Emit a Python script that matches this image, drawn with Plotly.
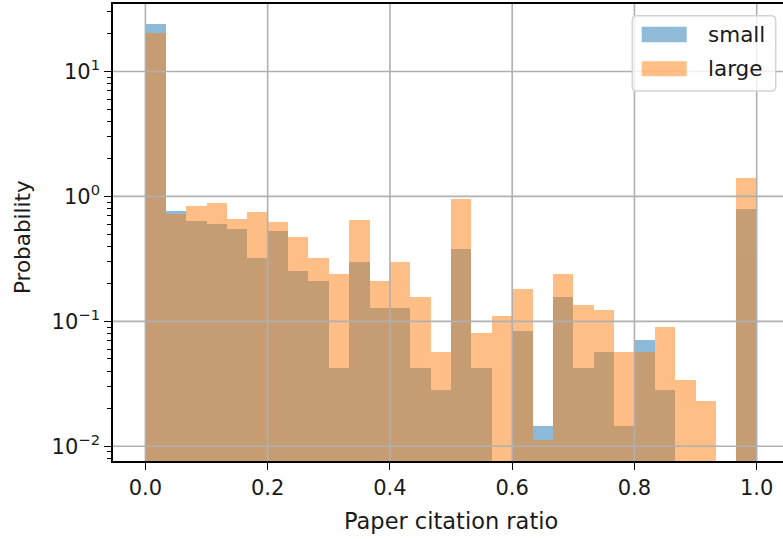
import plotly.graph_objects as go
import math

# ---- data ----
bin_edges_n = 30
bin_lo = 0.0
bin_hi = 1.0
small = [24.1, 0.768, 0.63, 0.60, 0.55, 0.324, 0.531, 0.255, 0.212, 0.0422,
         0.298, 0.128, 0.128, 0.0422, 0.0284, 0.381, 0.0422, 0, 0.0843, 0.0144,
         0.156, 0.0422, 0.0573, 0.0144, 0.0707, 0.0284, 0, 0, 0, 0.787]
large = [20.2, 0.726, 0.838, 0.89, 0.66, 0.745, 0.619, 0.469, 0.324, 0.239,
         0.642, 0.212, 0.298, 0.156, 0.0573, 0.953, 0.0804, 0.111, 0.182, 0.0113,
         0.240, 0.134, 0.123, 0.0573, 0.0573, 0.0903, 0.0342, 0.0229, 0, 1.40]
series_names = ["small", "large"]
x_ticks = [0.0, 0.2, 0.4, 0.6, 0.8, 1.0]
x_ticktext = ["0.0", "0.2", "0.4", "0.6", "0.8", "1.0"]
y_ticks = [0.01, 0.1, 1, 10]
y_ticktext = ["10<sup>\u22122</sup>", "10<sup>\u22121</sup>", "10<sup>0</sup>", "10<sup>1</sup>"]

width = (bin_hi - bin_lo) / bin_edges_n
centers = [bin_lo + (i + 0.5) * width for i in range(bin_edges_n)]

# ---- layout geometry ----
W, H = 783, 539
ML, MR, MT, MB = 113, 0, 4, 78
PW, PH = W - ML - MR, H - MT - MB
XR = [-0.053, 1.043]
YR = [-2.118, 1.540]

def px(x):
    return (x - ML) / PW

def py(y):
    return (H - MB - y) / PH

C0 = "#1f77b4"
C1 = "#ff7f0e"
FONT = "DejaVu Sans"
TXT = "#1a1a1a"

fig = go.Figure()
for name, vals, col in [(series_names[0], small, C0), (series_names[1], large, C1)]:
    fig.add_trace(go.Bar(
        x=centers, y=[v if v > 0 else None for v in vals], width=width,
        name=name, marker=dict(color=col, line=dict(width=0)), opacity=0.5,
        showlegend=False,
    ))

shapes = []
# grid lines above bars (matplotlib draws grid over patches)
for xv in x_ticks:
    shapes.append(dict(type="line", xref="x", yref="paper", x0=xv, x1=xv, y0=0, y1=1,
                       line=dict(color="#b0b0b0", width=1.6), layer="above"))
for yv in y_ticks:
    f = (math.log10(yv) - YR[0]) / (YR[1] - YR[0])
    shapes.append(dict(type="line", xref="paper", yref="paper", x0=0, x1=1, y0=f, y1=f,
                       line=dict(color="#b0b0b0", width=1.6), layer="above"))

# legend box (rounded)
x0, x1, y0, y1, r = 632.3, 775.7, 15.7, 91.0, 4.5
pts = (f"M {px(x0+r)},{py(y0)} L {px(x1-r)},{py(y0)} Q {px(x1)},{py(y0)} {px(x1)},{py(y0+r)} "
       f"L {px(x1)},{py(y1-r)} Q {px(x1)},{py(y1)} {px(x1-r)},{py(y1)} "
       f"L {px(x0+r)},{py(y1)} Q {px(x0)},{py(y1)} {px(x0)},{py(y1-r)} "
       f"L {px(x0)},{py(y0+r)} Q {px(x0)},{py(y0)} {px(x0+r)},{py(y0)} Z")
shapes.append(dict(type="path", xref="paper", yref="paper", path=pts,
                   fillcolor="rgba(255,255,255,0.8)", line=dict(color="#d4d4d4", width=1.5),
                   layer="above"))
legend_rows = [(series_names[0], C0, 26.8, 42.2, 35.0), (series_names[1], C1, 61.3, 76.3, 69.0)]
annotations = []
for name, col, ya, yb, yc in legend_rows:
    shapes.append(dict(type="rect", xref="paper", yref="paper",
                       x0=px(641.7), x1=px(686.7), y0=py(yb), y1=py(ya),
                       fillcolor=col, opacity=0.5, line=dict(width=0), layer="above"))
    annotations.append(dict(xref="paper", yref="paper", x=px(706.0), y=py(yc),
                            text=name, showarrow=False, xanchor="left", yanchor="middle",
                            font=dict(family=FONT, size=21.5, color=TXT)))

annotations.append(dict(xref="paper", yref="paper", x=px(451), y=py(521),
                        text="Paper citation ratio", showarrow=False,
                        xanchor="center", yanchor="middle",
                        font=dict(family=FONT, size=22.5, color=TXT)))
annotations.append(dict(xref="paper", yref="paper", x=px(22), y=py(237),
                        text="Probability", showarrow=False, textangle=-90,
                        xanchor="center", yanchor="middle",
                        font=dict(family=FONT, size=21.5, color=TXT)))

minor_vals = []
for e in range(-3, 2):
    for d in range(2, 10):
        v = d * 10 ** e
        if YR[0] <= math.log10(v) <= YR[1]:
            minor_vals.append(v)

fig.update_layout(
    width=W, height=H, margin=dict(l=ML, r=MR, t=MT, b=MB, pad=0),
    paper_bgcolor="white", plot_bgcolor="white",
    barmode="overlay", bargap=0, showlegend=False,
    shapes=shapes, annotations=annotations,
    xaxis=dict(range=XR, tickvals=x_ticks, ticktext=x_ticktext, showgrid=False,
               zeroline=False, showline=True, linecolor="black", linewidth=1.6,
               mirror=True, ticks="outside", ticklen=7, tickwidth=1.4, tickcolor="black",
               tickfont=dict(family=FONT, size=21, color=TXT), layer="above traces"),
    yaxis=dict(type="log", range=YR, tickvals=y_ticks, ticktext=y_ticktext, showgrid=False,
               zeroline=False, showline=True, linecolor="black", linewidth=1.6,
               ticks="outside", ticklen=7, tickwidth=1.4, tickcolor="black",
               tickfont=dict(family=FONT, size=21, color=TXT), layer="above traces",
               minor=dict(tickmode="array", tickvals=minor_vals, ticks="outside", ticklen=4,
                          tickwidth=1.1, tickcolor="black", showgrid=False)),
    font=dict(family=FONT, color=TXT),
)

fig.write_html("out.html")
